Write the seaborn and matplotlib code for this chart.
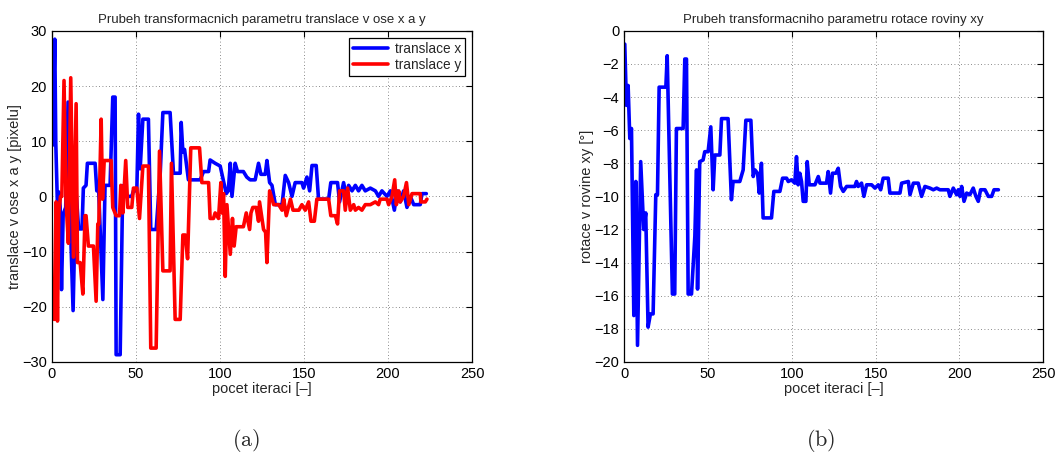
import matplotlib
matplotlib.use("Agg")
import matplotlib.pyplot as plt
import pandas as pd
import seaborn as sns

# vertices, (iteration, value)
tx_iter = [0.6, 1.8, 2.4, 3.4, 4.2, 5.0, 5.8, 6.8, 8.3, 9.7, 11.0, 12.7, 14.3, 16.0, 18.0,
           18.8, 20.4, 21.2, 25.8, 26.8, 27.8, 30.4, 31.7, 34.7, 36.3, 37.7, 38.3, 40.7,
           42.0, 42.7, 44.5, 47.6, 48.6, 50.6, 51.6, 52.6, 54.2, 57.5, 58.9, 62.1, 64.5,
           66.1, 70.4, 72.4, 76.4, 77.0, 78.0, 79.0, 81.3, 88.3, 90.3, 93.3, 94.2, 97.2,
           100.2, 103.8, 105.0, 106.2, 107.2, 109.1, 110.5, 114.0, 116.0, 118.0, 121.0,
           123.0, 124.4, 127.0, 128.0, 129.6, 131.0, 133.0, 137.0, 138.9, 140.9, 142.9,
           144.8, 148.8, 149.8, 151.8, 153.4, 154.8, 157.3, 158.7, 164.7, 166.0, 170.0,
           171.2, 173.6, 175.2, 176.6, 178.6, 180.6, 182.5, 184.5, 186.5, 189.5, 192.5,
           194.4, 196.4, 199.4, 201.4, 203.8, 205.4, 207.3, 209.3, 211.3, 213.3, 215.3,
           219.2, 220.2, 222.8]
tx_val = [9.3, 28.5, 9.7, -1.8, 0.8, -1.8, -16.9, -3.2, -2.0, 17.1, -4.3, -20.7, 1.6, -5.9,
          -5.9, 1.5, 2.0, 6.0, 6.0, 1.0, 2.0, -18.7, 2.0, 2.0, 18.0, 18.0, -28.7, -28.7,
          -2.5, 2.0, 0.0, 0.0, 1.0, 1.0, 14.9, 5.0, 14.0, 14.0, -6.0, -6.0, 4.0, 15.2,
          15.2, 4.2, 4.2, 13.4, 8.0, 8.5, 3.0, 3.0, 4.5, 4.5, 6.6, 6.0, 5.5, 0.5, 1.0,
          6.0, 0.0, 6.0, 4.5, 4.5, 3.5, 3.0, 3.0, 6.0, 4.0, 4.0, 6.5, 2.5, 2.0, -1.5, -1.5,
          3.8, 2.5, 0.0, 2.5, 2.5, 1.5, 3.5, 1.0, 5.6, 5.6, -0.5, -0.5, 2.5, 2.5, -1.0,
          2.5, 0.0, 2.0, 1.0, 2.0, 1.0, 2.0, 1.0, 1.5, 1.0, 0.0, 1.0, 0.0, 1.0, -2.5, 1.0,
          -1.0, 1.0, -2.0, 0.0, -1.5, -1.5, 0.5, 0.5]

ty_iter = [0.6, 1.4, 2.6, 3.4, 4.2, 5.2, 6.0, 7.3, 8.5, 9.9, 11.3, 12.9, 14.5, 15.3, 16.9,
           18.5, 19.8, 20.4, 21.8, 24.8, 26.4, 27.4, 28.0, 29.4, 30.2, 31.2, 35.3, 36.3,
           38.3, 40.3, 41.1, 42.3, 44.0, 45.2, 47.6, 48.6, 50.6, 52.2, 54.2, 57.5, 58.9,
           62.1, 64.1, 66.1, 70.4, 71.2, 73.4, 76.4, 78.0, 79.4, 80.8, 82.7, 87.9, 89.3,
           93.3, 94.2, 96.2, 97.2, 99.2, 100.6, 101.2, 102.2, 103.2, 104.2, 106.2, 107.5,
           108.5, 109.7, 114.0, 115.7, 117.7, 118.5, 119.6, 121.6, 123.0, 123.6, 126.0,
           127.2, 128.0, 129.6, 132.0, 135.0, 137.0, 138.0, 139.5, 142.0, 143.5, 147.0,
           148.8, 150.8, 152.8, 154.2, 156.2, 157.7, 164.7, 166.0, 168.7, 170.0, 171.2,
           173.6, 174.6, 176.0, 177.6, 179.6, 180.6, 182.5, 184.5, 186.5, 189.5, 192.5,
           194.4, 195.4, 199.4, 200.4, 202.4, 204.0, 205.0, 206.4, 207.3, 209.3, 211.0,
           212.4, 214.3, 219.2, 219.6, 222.2, 223.2]
ty_val = [-16.2, -22.3, -1.0, -22.6, -3.0, 0.0, 0.0, 21.0, -1.0, -8.5, 21.5, -11.0, 16.8,
          -12.0, -12.0, -17.7, -3.5, -3.5, -9.0, -9.0, -19.0, -5.0, -5.0, 14.0, -0.5, 6.5,
          6.5, -2.0, -3.5, -3.5, 2.0, -3.0, 6.5, -2.0, -2.0, 1.5, 1.5, -4.0, 5.5, 5.5,
          -27.5, -27.5, 8.2, -13.5, -13.5, 6.0, -22.3, -22.3, -7.0, -7.0, -11.3, 8.8, 8.8,
          2.5, 2.5, -4.0, -4.0, -3.0, -4.0, 2.5, -3.0, 0.5, -14.5, -1.5, -10.5, -4.0, -9.0,
          -5.5, -5.5, -3.0, -6.0, -3.0, -2.0, -2.0, -4.5, -1.0, -6.0, -6.5, -12.0, 1.0,
          -1.5, -1.5, -2.5, -0.5, -3.5, -0.5, -2.5, -2.5, -1.5, -2.5, -1.0, -4.5, -4.5,
          -0.5, -0.5, -3.5, -3.5, -5.0, 1.0, 1.0, -2.5, 1.5, -2.5, -1.5, -2.5, -2.0, -2.5,
          -1.5, -1.5, -1.0, -1.5, -0.5, -0.5, -1.5, 0.0, 3.0, -1.5, 1.0, -1.0, 0.0, 2.5,
          -1.5, 0.5, 0.5, -1.0, -1.0, -0.5]

rot_iter = [0.4, 1.4, 2.4, 3.4, 4.4, 5.8, 7.0, 8.0, 9.9, 11.7, 12.9, 14.3, 15.7, 17.3, 18.9,
            19.9, 20.9, 24.9, 25.7, 27.2, 28.8, 30.2, 31.2, 35.2, 36.2, 37.2, 38.2, 40.2,
            42.2, 43.2, 43.8, 45.1, 47.1, 48.1, 50.1, 51.7, 53.1, 54.1, 57.1, 58.1, 62.0,
            64.0, 65.0, 69.0, 71.0, 72.6, 75.6, 77.0, 78.0, 79.6, 80.6, 81.9, 82.9, 87.9,
            89.3, 92.9, 94.5, 96.9, 97.9, 99.8, 101.8, 102.8, 103.8, 104.8, 105.8, 106.8,
            108.4, 109.2, 110.4, 113.8, 115.8, 116.8, 120.7, 121.7, 123.1, 124.3, 126.3,
            127.7, 129.1, 130.7, 132.7, 137.6, 138.6, 139.6, 141.6, 143.0, 144.6, 147.6,
            149.6, 151.6, 153.0, 154.5, 157.5, 158.5, 164.5, 165.5, 169.5, 170.5, 172.5,
            175.4, 177.4, 179.4, 182.4, 184.4, 186.4, 188.3, 193.3, 194.3, 196.3, 198.3,
            199.3, 200.3, 201.3, 202.7, 204.3, 206.2, 208.2, 209.8, 211.2, 212.6, 215.2,
            217.2, 219.2, 220.6, 223.2]
rot_val = [-0.8, -4.5, -3.3, -6.5, -5.9, -17.2, -9.1, -19.0, -7.9, -12.0, -11.0, -17.9,
           -17.1, -17.1, -9.9, -9.9, -3.4, -3.4, -1.5, -8.5, -15.9, -15.9, -5.9, -5.9,
           -1.7, -1.7, -15.9, -15.9, -12.4, -8.4, -15.6, -7.9, -7.8, -7.3, -7.3, -5.8,
           -9.6, -7.5, -7.5, -5.3, -5.3, -10.2, -9.1, -9.1, -8.4, -5.4, -5.4, -8.8, -8.4,
           -8.6, -9.8, -8.0, -11.3, -11.3, -9.7, -9.7, -8.9, -8.9, -9.1, -9.0, -9.2, -7.6,
           -9.3, -8.6, -9.1, -10.3, -10.3, -7.9, -9.3, -9.3, -8.8, -9.2, -9.2, -8.5, -9.8,
           -8.6, -8.6, -8.3, -9.4, -9.7, -9.4, -9.4, -9.1, -9.4, -9.2, -10.0, -9.3, -9.3,
           -9.5, -9.3, -9.6, -8.9, -8.9, -9.8, -9.8, -9.2, -9.1, -9.9, -9.2, -9.2, -10.0,
           -9.4, -9.5, -9.6, -9.5, -9.6, -9.6, -10.0, -9.5, -9.9, -9.6, -10.0, -9.4, -10.3,
           -9.8, -9.9, -9.5, -10.0, -10.3, -9.6, -9.6, -10.0, -10.0, -9.6, -9.6]

sns.set_theme(style="white")
plt.rcParams['font.family'] = ['Liberation Sans', 'DejaVu Sans']
plt.rcParams['mathtext.fontset'] = 'cm'

trans = pd.concat([
    pd.DataFrame({'iter': tx_iter, 'val': tx_val, 'serie': 'translace x'}),
    pd.DataFrame({'iter': ty_iter, 'val': ty_val, 'serie': 'translace y'}),
], ignore_index=True)
rot = pd.DataFrame({'iter': rot_iter, 'val': rot_val})

fig = plt.figure(figsize=(10.56, 4.61), dpi=100)
ax1 = fig.add_axes([0.049, 0.215, 0.398, 0.718])
ax2 = fig.add_axes([0.591, 0.215, 0.397, 0.718])

sns.lineplot(data=trans, x='iter', y='val', hue='serie', palette=['#0000ff', '#ff0000'],
             linewidth=2.6, ax=ax1, sort=False)
sns.lineplot(data=rot, x='iter', y='val', color='#0000ff', linewidth=2.6, ax=ax2, sort=False)


def matlab_axes(ax, ylim, yticks, title, ylabel):
    ax.set_xlim(0, 250)
    ax.set_ylim(*ylim)
    ax.set_xticks(range(0, 251, 50))
    ax.set_yticks(yticks)
    ax.set_yticklabels([str(t).replace('-', '\u2212') for t in yticks])
    ax.grid(True, linestyle=(0, (1, 3)), color='#666666', linewidth=0.6)
    ax.tick_params(direction='in', length=4, top=True, right=True, labelsize=10.5,
                   colors='black', width=0.8)
    for s in ax.spines.values():
        s.set_color('black')
        s.set_linewidth(0.9)
    ax.set_title(title, fontsize=9.5, pad=6)
    ax.set_xlabel('pocet iteraci [\u2013]', fontsize=10.5, labelpad=1)
    ax.set_ylabel(ylabel, fontsize=10.5, labelpad=0)


matlab_axes(ax1, (-30, 30), list(range(-30, 31, 10)),
            'Prubeh transformacnich parametru translace v ose x a y',
            'translace v ose x a y [pixelu]')
matlab_axes(ax2, (-20, 0), list(range(-20, 1, 2)),
            'Prubeh transformacniho parametru rotace roviny xy',
            'rotace v rovine xy [\u00b0]')

leg = ax1.legend(loc='upper right', fontsize=9.8, frameon=True, fancybox=False,
                 borderaxespad=0.5, handlelength=2.6, handletextpad=0.5,
                 borderpad=0.3, labelspacing=0.15)
leg.get_frame().set_edgecolor('black')
leg.get_frame().set_linewidth(0.9)
leg.get_frame().set_alpha(1)
for h in leg.get_lines():
    h.set_linewidth(2.6)

fig.text(0.233, 0.045, r'$\mathrm{(a)}$', ha='center', va='center', fontsize=16)
fig.text(0.777, 0.045, r'$\mathrm{(b)}$', ha='center', va='center', fontsize=16)

fig.savefig('out.png', dpi=100, facecolor='white')
